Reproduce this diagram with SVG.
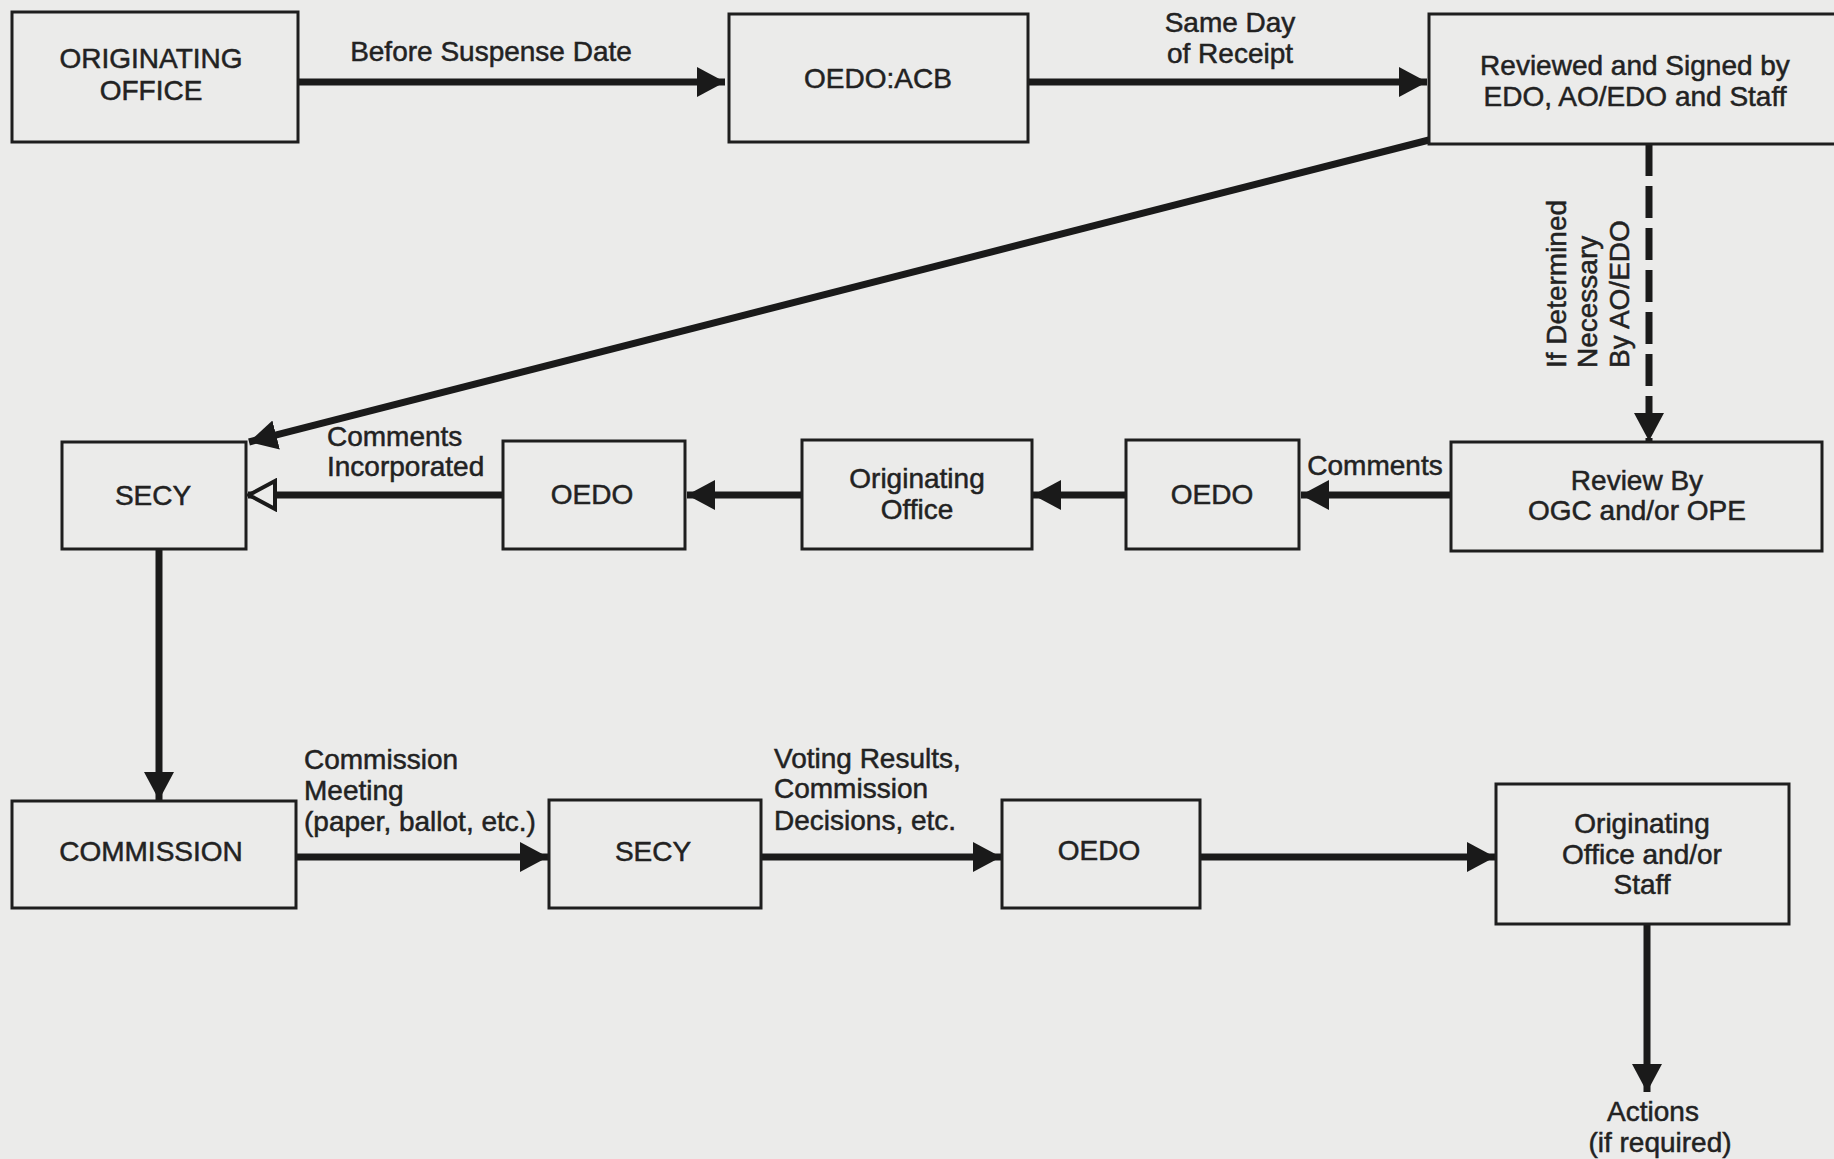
<svg xmlns="http://www.w3.org/2000/svg" width="1834" height="1159" viewBox="0 0 1834 1159">
<style>
.box{fill:#ebebea;stroke:#1e1e1e;stroke-width:3}
.t{font-family:"Liberation Sans",Arial,sans-serif;font-size:28px;fill:#222;stroke:#222;stroke-width:0.5;text-anchor:middle}
.l{font-family:"Liberation Sans",Arial,sans-serif;font-size:28px;fill:#222;stroke:#222;stroke-width:0.5}
.c{fill:none;stroke:#1a1a1a;stroke-width:7}
</style>
<defs>
<marker id="ah" markerUnits="userSpaceOnUse" viewBox="0 0 28 30" refX="28" refY="15" markerWidth="28" markerHeight="30" orient="auto">
<path d="M0,0 L28,15 L0,30 Z" fill="#1a1a1a"/>
</marker>
<marker id="ao" markerUnits="userSpaceOnUse" viewBox="0 0 32 34" refX="30" refY="17" markerWidth="32" markerHeight="34" orient="auto">
<path d="M3,3 L29,17 L3,31 Z" fill="#ebebea" stroke="#1a1a1a" stroke-width="4"/>
</marker>
</defs>
<rect width="1834" height="1159" fill="#ebebea"/>
<g id="connectors">
<line class="c" x1="298" y1="82" x2="725" y2="82" marker-end="url(#ah)"/>
<line class="c" x1="1028" y1="82" x2="1427" y2="82" marker-end="url(#ah)"/>
<line class="c" x1="1429" y1="140" x2="249" y2="442" marker-end="url(#ah)"/>
<line class="c" x1="1649" y1="144" x2="1649" y2="441" stroke-width="9" stroke-dasharray="32 10" marker-end="url(#ah)"/>
<line class="c" x1="1451" y1="495" x2="1301" y2="495" marker-end="url(#ah)"/>
<line class="c" x1="1126" y1="495" x2="1033" y2="495" marker-end="url(#ah)"/>
<line class="c" x1="802" y1="495" x2="687" y2="495" marker-end="url(#ah)"/>
<line class="c" x1="503" y1="495" x2="248" y2="495" marker-end="url(#ao)"/>
<line class="c" x1="159" y1="549" x2="159" y2="800" marker-end="url(#ah)"/>
<line class="c" x1="296" y1="857" x2="548" y2="857" marker-end="url(#ah)"/>
<line class="c" x1="761" y1="857" x2="1001" y2="857" marker-end="url(#ah)"/>
<line class="c" x1="1200" y1="857" x2="1495" y2="857" marker-end="url(#ah)"/>
<line class="c" x1="1647" y1="924" x2="1647" y2="1092" stroke-width="8" marker-end="url(#ah)"/>
<text class="t" x="491" y="61">Before Suspense Date</text>
<text class="t" x="1230" y="32">Same Day</text>
<text class="t" x="1230" y="63">of Receipt</text>
<text class="l" transform="translate(1566,368) rotate(-90)">If Determined</text>
<text class="l" transform="translate(1597,368) rotate(-90)">Necessary</text>
<text class="l" transform="translate(1629,368) rotate(-90)">By AO/EDO</text>
<text class="t" x="1375" y="475">Comments</text>
<text class="l" x="327" y="446">Comments</text>
<text class="l" x="327" y="476">Incorporated</text>
<text class="l" x="304" y="769">Commission</text>
<text class="l" x="304" y="800">Meeting</text>
<text class="l" x="304" y="831">(paper, ballot, etc.)</text>
<text class="l" x="774" y="768">Voting Results,</text>
<text class="l" x="774" y="798">Commission</text>
<text class="l" x="774" y="830">Decisions, etc.</text>
<text class="t" x="1653" y="1121">Actions</text>
<text class="t" x="1660" y="1152">(if required)</text>
</g>
<g id="n-orig">
<rect class="box" x="12" y="12" width="286" height="130"/>
<text class="t" x="151" y="68">ORIGINATING</text>
<text class="t" x="151" y="100">OFFICE</text>
</g>
<g id="n-acb">
<rect class="box" x="729" y="14" width="299" height="128"/>
<text class="t" x="878" y="88">OEDO:ACB</text>
</g>
<g id="n-reviewed">
<rect class="box" x="1429" y="14" width="410" height="130"/>
<text class="t" x="1635" y="75">Reviewed and Signed by</text>
<text class="t" x="1635" y="106">EDO, AO/EDO and Staff</text>
</g>
<g id="n-secy1">
<rect class="box" x="62" y="442" width="184" height="107"/>
<text class="t" x="153" y="505">SECY</text>
</g>
<g id="n-oedo1">
<rect class="box" x="503" y="441" width="182" height="108"/>
<text class="t" x="592" y="504">OEDO</text>
</g>
<g id="n-orig2">
<rect class="box" x="802" y="440" width="230" height="109"/>
<text class="t" x="917" y="488">Originating</text>
<text class="t" x="917" y="519">Office</text>
</g>
<g id="n-oedo2">
<rect class="box" x="1126" y="440" width="173" height="109"/>
<text class="t" x="1212" y="504">OEDO</text>
</g>
<g id="n-review">
<rect class="box" x="1451" y="442" width="371" height="109"/>
<text class="t" x="1637" y="490">Review By</text>
<text class="t" x="1637" y="520">OGC and/or OPE</text>
</g>
<g id="n-commission">
<rect class="box" x="12" y="801" width="284" height="107"/>
<text class="t" x="151" y="861">COMMISSION</text>
</g>
<g id="n-secy2">
<rect class="box" x="549" y="800" width="212" height="108"/>
<text class="t" x="653" y="861">SECY</text>
</g>
<g id="n-oedo3">
<rect class="box" x="1002" y="800" width="198" height="108"/>
<text class="t" x="1099" y="860">OEDO</text>
</g>
<g id="n-origstaff">
<rect class="box" x="1496" y="784" width="293" height="140"/>
<text class="t" x="1642" y="833">Originating</text>
<text class="t" x="1642" y="864">Office and/or</text>
<text class="t" x="1642" y="894">Staff</text>
</g>
</svg>
